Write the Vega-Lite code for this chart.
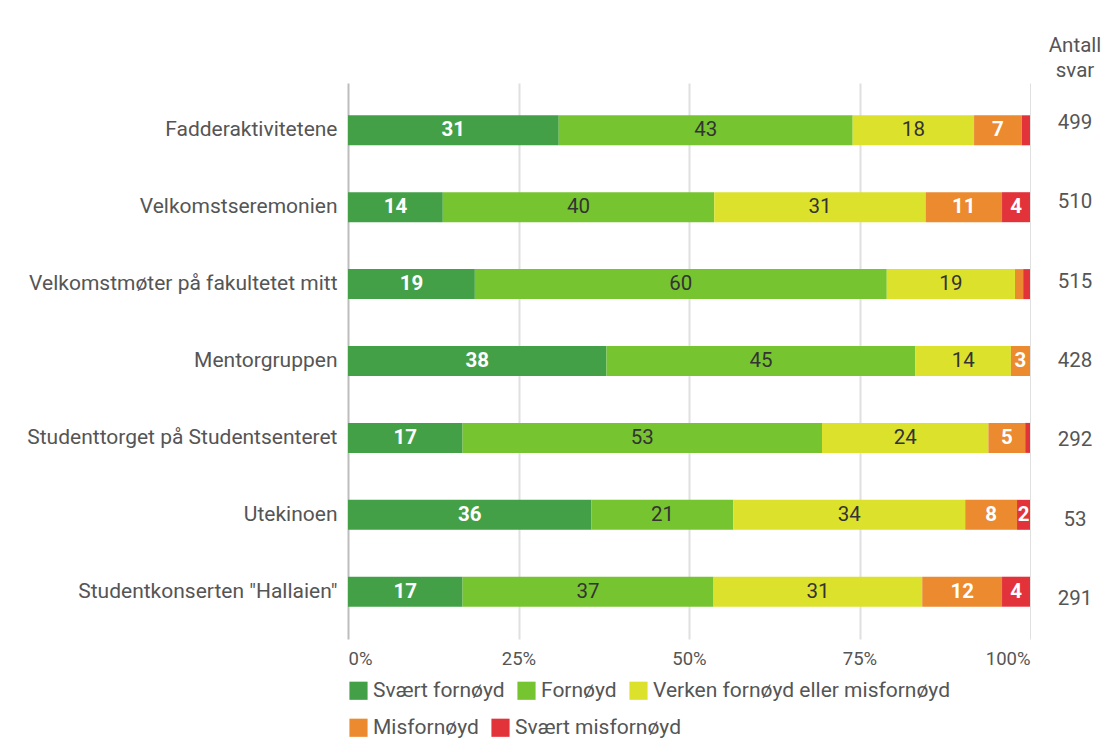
{
  "$schema": "https://vega.github.io/schema/vega-lite/v6.json",
  "background": "white",
  "padding": {"left": 26, "top": 35, "right": 0, "bottom": 5},
  "bounds": "flush",
  "spacing": 0,
  "config": {"font": "Roboto", "view": {"stroke": null}},
  "datasets": {
    "resp": [
      {"item": "Fadderaktivitetene", "cat": "Svært fornøyd", "k": 1, "pct": 30.9},
      {"item": "Fadderaktivitetene", "cat": "Fornøyd", "k": 2, "pct": 43.1},
      {"item": "Fadderaktivitetene", "cat": "Verken fornøyd eller misfornøyd", "k": 3, "pct": 17.8},
      {"item": "Fadderaktivitetene", "cat": "Misfornøyd", "k": 4, "pct": 7.0},
      {"item": "Fadderaktivitetene", "cat": "Svært misfornøyd", "k": 5, "pct": 1.2},
      {"item": "Velkomstseremonien", "cat": "Svært fornøyd", "k": 1, "pct": 13.9},
      {"item": "Velkomstseremonien", "cat": "Fornøyd", "k": 2, "pct": 39.8},
      {"item": "Velkomstseremonien", "cat": "Verken fornøyd eller misfornøyd", "k": 3, "pct": 31.0},
      {"item": "Velkomstseremonien", "cat": "Misfornøyd", "k": 4, "pct": 11.2},
      {"item": "Velkomstseremonien", "cat": "Svært misfornøyd", "k": 5, "pct": 4.1},
      {"item": "Velkomstmøter på fakultetet mitt", "cat": "Svært fornøyd", "k": 1, "pct": 18.6},
      {"item": "Velkomstmøter på fakultetet mitt", "cat": "Fornøyd", "k": 2, "pct": 60.4},
      {"item": "Velkomstmøter på fakultetet mitt", "cat": "Verken fornøyd eller misfornøyd", "k": 3, "pct": 18.8},
      {"item": "Velkomstmøter på fakultetet mitt", "cat": "Misfornøyd", "k": 4, "pct": 1.2},
      {"item": "Velkomstmøter på fakultetet mitt", "cat": "Svært misfornøyd", "k": 5, "pct": 1.0},
      {"item": "Mentorgruppen", "cat": "Svært fornøyd", "k": 1, "pct": 37.9},
      {"item": "Mentorgruppen", "cat": "Fornøyd", "k": 2, "pct": 45.3},
      {"item": "Mentorgruppen", "cat": "Verken fornøyd eller misfornøyd", "k": 3, "pct": 14.0},
      {"item": "Mentorgruppen", "cat": "Misfornøyd", "k": 4, "pct": 2.8},
      {"item": "Mentorgruppen", "cat": "Svært misfornøyd", "k": 5, "pct": 0},
      {"item": "Studenttorget på Studentsenteret", "cat": "Svært fornøyd", "k": 1, "pct": 16.8},
      {"item": "Studenttorget på Studentsenteret", "cat": "Fornøyd", "k": 2, "pct": 52.7},
      {"item": "Studenttorget på Studentsenteret", "cat": "Verken fornøyd eller misfornøyd", "k": 3, "pct": 24.4},
      {"item": "Studenttorget på Studentsenteret", "cat": "Misfornøyd", "k": 4, "pct": 5.4},
      {"item": "Studenttorget på Studentsenteret", "cat": "Svært misfornøyd", "k": 5, "pct": 0.7},
      {"item": "Utekinoen", "cat": "Svært fornøyd", "k": 1, "pct": 35.7},
      {"item": "Utekinoen", "cat": "Fornøyd", "k": 2, "pct": 20.8},
      {"item": "Utekinoen", "cat": "Verken fornøyd eller misfornøyd", "k": 3, "pct": 34.0},
      {"item": "Utekinoen", "cat": "Misfornøyd", "k": 4, "pct": 7.6},
      {"item": "Utekinoen", "cat": "Svært misfornøyd", "k": 5, "pct": 1.9},
      {"item": "Studentkonserten \"Hallaien\"", "cat": "Svært fornøyd", "k": 1, "pct": 16.8},
      {"item": "Studentkonserten \"Hallaien\"", "cat": "Fornøyd", "k": 2, "pct": 36.8},
      {"item": "Studentkonserten \"Hallaien\"", "cat": "Verken fornøyd eller misfornøyd", "k": 3, "pct": 30.6},
      {"item": "Studentkonserten \"Hallaien\"", "cat": "Misfornøyd", "k": 4, "pct": 11.7},
      {"item": "Studentkonserten \"Hallaien\"", "cat": "Svært misfornøyd", "k": 5, "pct": 4.1}
    ],
    "counts": [
      {"item": "Fadderaktivitetene", "n": 499},
      {"item": "Velkomstseremonien", "n": 510},
      {"item": "Velkomstmøter på fakultetet mitt", "n": 515},
      {"item": "Mentorgruppen", "n": 428},
      {"item": "Studenttorget på Studentsenteret", "n": 292},
      {"item": "Utekinoen", "n": 53},
      {"item": "Studentkonserten \"Hallaien\"", "n": 291}
    ]
  },
  "hconcat": [
    {
      "width": 682,
      "height": 556,
      "data": {"name": "resp"},
      "transform": [
        {"stack": "pct", "groupby": ["item"], "sort": [{"field": "k", "order": "ascending"}], "offset": "normalize", "as": ["x0", "x1"]}
      ],
      "encoding": {
        "y": {
          "field": "item",
          "type": "nominal",
          "sort": ["Fadderaktivitetene", "Velkomstseremonien", "Velkomstmøter på fakultetet mitt", "Mentorgruppen", "Studenttorget på Studentsenteret", "Utekinoen", "Studentkonserten \"Hallaien\""],
          "scale": {"paddingInner": 0.61, "paddingOuter": 0.42},
          "axis": {"title": null, "domain": false, "ticks": false, "labelFontSize": 21, "labelColor": "#555555", "labelPadding": 11, "labelLimit": 500}
        },
        "x": {
          "field": "x0",
          "type": "quantitative",
          "scale": {"domain": [0, 1], "nice": false},
          "axis": {
            "title": null,
            "format": ".0%",
            "values": [0, 0.25, 0.5, 0.75, 1],
            "labelFlush": true,
            "labelFontSize": 18.5,
            "labelColor": "#555555",
            "labelPadding": 10,
            "domain": false,
            "ticks": false,
            "grid": true,
            "gridColor": {"condition": {"test": "datum.value === 0", "value": "#bdbdbd"}, "value": "#e0e0e0"},
            "gridWidth": {"condition": {"test": "datum.value === 1", "value": 1}, "value": 2}
          }
        }
      },
      "layer": [
        {
          "transform": [{"filter": "datum.k <= 3"}],
          "mark": {"type": "bar"},
          "encoding": {
            "x2": {"field": "x1"},
            "color": {
              "field": "cat",
              "type": "nominal",
              "scale": {
                "domain": ["Svært fornøyd", "Fornøyd", "Verken fornøyd eller misfornøyd"],
                "range": ["#43a047", "#76c530", "#dce22c"]
              },
              "legend": {
                "title": null,
                "orient": "none",
                "legendX": 0,
                "legendY": 597,
                "direction": "horizontal",
                "symbolType": "square",
                "symbolSize": 330,
                "symbolStrokeWidth": 0,
                "symbolOpacity": 1,
                "labelFontSize": 21,
                "labelColor": "#555555",
                "labelOffset": 4,
                "columnPadding": 11,
                "labelLimit": 500
              }
            }
          }
        },
        {
          "transform": [{"filter": "datum.k >= 4"}],
          "mark": {"type": "bar"},
          "encoding": {
            "x2": {"field": "x1"},
            "fill": {
              "field": "cat",
              "type": "nominal",
              "scale": {
                "domain": ["Misfornøyd", "Svært misfornøyd"],
                "range": ["#eb8a2e", "#e2323a"]
              },
              "legend": {
                "title": null,
                "orient": "none",
                "legendX": 0,
                "legendY": 634,
                "direction": "horizontal",
                "symbolType": "square",
                "symbolSize": 330,
                "symbolStrokeWidth": 0,
                "symbolOpacity": 1,
                "labelFontSize": 21,
                "labelColor": "#555555",
                "labelOffset": 4,
                "columnPadding": 11,
                "labelLimit": 500
              }
            }
          }
        },
        {
          "transform": [
            {"fold": ["x0", "x1"], "as": ["edge", "pos"]},
            {"aggregate": [{"op": "mean", "field": "pos", "as": "mid"}], "groupby": ["item", "cat", "k", "pct"]},
            {"filter": "datum.pct >= 1.5 && (datum.k == 1 || datum.k >= 4)"}
          ],
          "mark": {"type": "text", "fontSize": 20.5, "fontWeight": "bold", "color": "white"},
          "encoding": {
            "x": {"field": "mid", "type": "quantitative"},
            "text": {"field": "pct", "type": "quantitative", "format": ".0f"}
          }
        },
        {
          "transform": [
            {"fold": ["x0", "x1"], "as": ["edge", "pos"]},
            {"aggregate": [{"op": "mean", "field": "pos", "as": "mid"}], "groupby": ["item", "cat", "k", "pct"]},
            {"filter": "datum.pct >= 1.5 && (datum.k == 2 || datum.k == 3)"}
          ],
          "mark": {"type": "text", "fontSize": 20.5, "color": "#333333"},
          "encoding": {
            "x": {"field": "mid", "type": "quantitative"},
            "text": {"field": "pct", "type": "quantitative", "format": ".0f"}
          }
        }
      ]
    },
    {
      "width": 90,
      "height": 556,
      "data": {"name": "counts"},
      "title": {"text": ["Antall", "svar"], "fontSize": 20.5, "fontWeight": "normal", "color": "#555555", "lineHeight": 25, "offset": 2, "anchor": "middle"},
      "mark": {"type": "text", "fontSize": 20.5, "color": "#555555"},
      "encoding": {
        "y": {
          "field": "item",
          "type": "nominal",
          "sort": ["Fadderaktivitetene", "Velkomstseremonien", "Velkomstmøter på fakultetet mitt", "Mentorgruppen", "Studenttorget på Studentsenteret", "Utekinoen", "Studentkonserten \"Hallaien\""],
          "scale": {"paddingInner": 0.61, "paddingOuter": 0.42},
          "axis": null
        },
        "text": {"field": "n", "type": "quantitative"}
      }
    }
  ]
}
